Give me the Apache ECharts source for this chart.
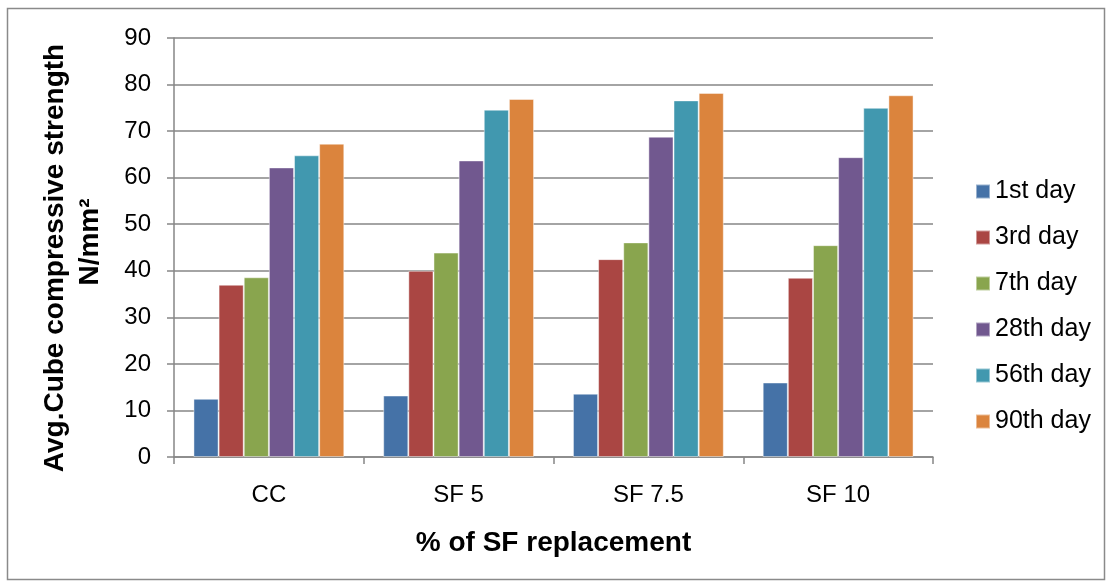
<!DOCTYPE html>
<html><head><meta charset="utf-8">
<script src="https://cdn.jsdelivr.net/npm/echarts@6/dist/echarts.min.js"></script>
<style>html,body{margin:0;padding:0;background:#fff}#c{width:1112px;height:588px}</style>
</head><body><div id="c"></div>
<script>
const categories = ['CC', 'SF 5', 'SF 7.5', 'SF 10'];
const seriesNames = ['1st day', '3rd day', '7th day', '28th day', '56th day', '90th day'];
const day1 = [12.5, 13.2, 13.6, 16.0];
const day3 = [37.0, 40.0, 42.5, 38.5];
const day7 = [38.6, 43.9, 46.1, 45.5];
const day28 = [62.2, 63.7, 68.8, 64.4];
const day56 = [64.8, 74.6, 76.6, 75.0];
const day90 = [67.3, 76.9, 78.2, 77.7];
const yTicks = [0, 10, 20, 30, 40, 50, 60, 70, 80, 90];
const yTitle1 = 'Avg.Cube compressive strength';
const yTitle2 = 'N/mm²';
const xTitle = '% of SF replacement';
const colors = ['#4572A7', '#AA4643', '#89A54E', '#71588F', '#4198AF', '#DB843D'];
const seriesData = [day1, day3, day7, day28, day56, day90];

const chart = echarts.init(document.getElementById('c'));
const font = 'Liberation Sans, Arial, sans-serif';
chart.setOption({
  animation: false,
  color: colors,
  graphic: [
    {type: 'rect', shape: {x: 7.5, y: 8.5, width: 1097, height: 571},
     style: {fill: 'none', stroke: '#8a8a8a', lineWidth: 1.5}, z: -1},
    {type: 'text', x: 55, y: 258, rotation: Math.PI / 2,
     style: {text: yTitle1, font: 'bold 28px ' + font, fill: '#000', align: 'center', verticalAlign: 'middle'}},
    {type: 'text', x: 90, y: 242, rotation: Math.PI / 2,
     style: {text: yTitle2, font: 'bold 28px ' + font, fill: '#000', align: 'center', verticalAlign: 'middle'}}
  ],
  grid: {left: 174, right: 179, top: 38, bottom: 131},
  legend: {
    orient: 'vertical', left: 970, top: 174,
    itemWidth: 14, itemHeight: 14, itemGap: 21,
    icon: 'rect',
    textStyle: {fontFamily: font, fontSize: 25, color: '#000'},
    data: seriesNames
  },
  xAxis: {
    type: 'category', data: categories,
    name: xTitle, nameLocation: 'middle', nameGap: 72,
    nameTextStyle: {fontFamily: font, fontSize: 28, fontWeight: 'bold', color: '#000'},
    axisLine: {lineStyle: {color: '#868686', width: 1.5}},
    axisTick: {show: true, length: 7, lineStyle: {color: '#868686', width: 1.5}},
    axisLabel: {fontFamily: font, fontSize: 24, color: '#000', margin: 26}
  },
  yAxis: {
    type: 'value', min: yTicks[0], max: yTicks[yTicks.length - 1], interval: 10,
    axisLine: {show: true, lineStyle: {color: '#868686', width: 1.5}},
    axisTick: {show: true, length: 7, lineStyle: {color: '#868686', width: 1.5}},
    axisLabel: {fontFamily: font, fontSize: 24, color: '#000', margin: 23},
    splitLine: {lineStyle: {color: '#868686', width: 1.5}}
  },
  series: seriesNames.map((n, i) => ({
    name: n, type: 'bar', data: seriesData[i],
    barGap: '0%', barCategoryGap: '20.5%',
    itemStyle: {borderColor: 'rgba(255,255,255,0.45)', borderWidth: 1}
  }))
});
</script></body></html>
